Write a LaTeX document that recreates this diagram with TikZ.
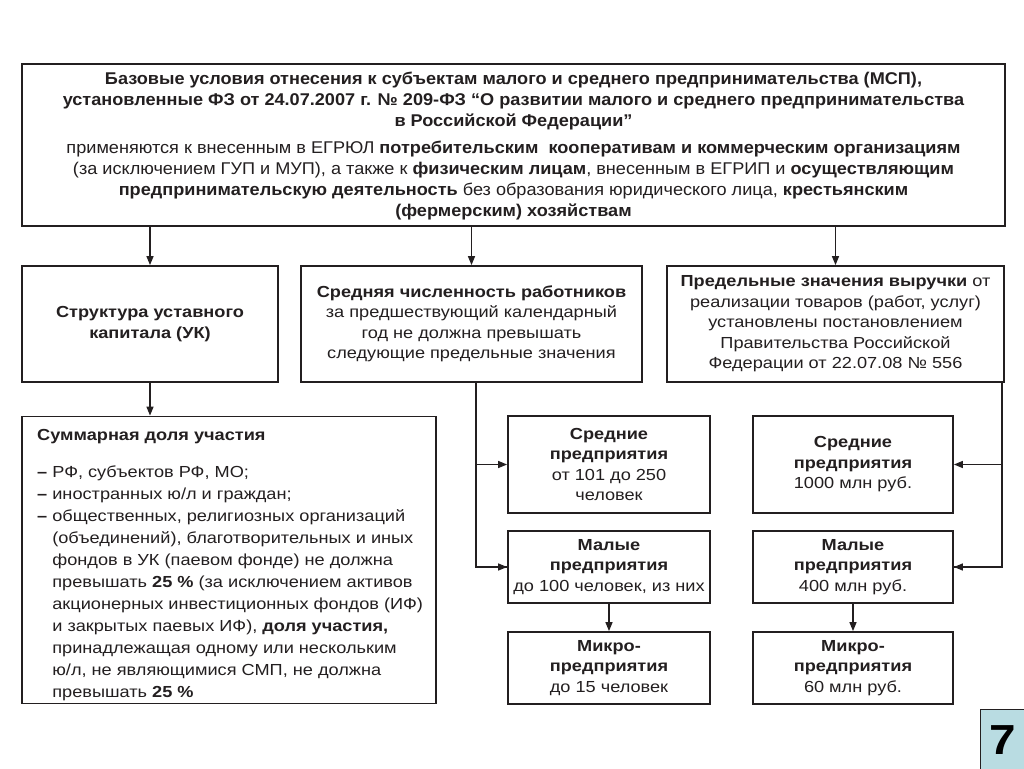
\documentclass[tikz,border=0pt]{standalone}
\usepackage{fontspec}
\setmainfont{Liberation Sans}[FakeStretch=1.135]
\newfontfamily\topfont{Liberation Sans}[FakeStretch=1.066]
\usetikzlibrary{arrows.meta}
\definecolor{ink}{HTML}{231F20}
\definecolor{tabblue}{HTML}{B9DCE2}
\begin{document}
\begin{tikzpicture}[x=1pt,y=-1pt,
  box/.style={draw=ink, line width=1.8pt, rectangle, inner sep=0pt, align=center,
    text=ink, font=\fontsize{16}{20.5}\selectfont},
  conn/.style={draw=ink, line width=1.4pt},
  arr/.style={conn, -{Triangle[length=9pt,width=7pt]}}]
\useasboundingbox (0,0) rectangle (1024,768);
\fill[white] (0,0) rectangle (1024,768);

\node[box, minimum width=983pt, minimum height=162pt] (top) at (513.5,145) {};
\node[align=center, inner sep=0pt, text=ink,
  font=\topfont\fontsize{17}{21}\selectfont] (toptext) at (513.5,146.5)
{\textbf{Базовые условия отнесения к субъектам малого и среднего предпринимательства (МСП),}\\
\textbf{установленные ФЗ от 24.07.2007 г. № 209-ФЗ “О развитии малого и среднего предпринимательства}\\
\textbf{в Российской Федерации”}\\[6pt]
применяются к внесенным в ЕГРЮЛ \textbf{потребительским\ \ кооперативам и коммерческим организациям}\\
(за исключением ГУП и МУП), а также к \textbf{физическим лицам}, внесенным в ЕГРИП и \textbf{осуществляющим}\\
\textbf{предпринимательскую деятельность} без образования юридического лица, \textbf{крестьянским}\\
\textbf{(фермерским) хозяйствам}};

\node[box, minimum width=256pt, minimum height=116pt] (struct) at (150,324)
{\textbf{Структура уставного}\\\textbf{капитала (УК)}};
\node[box, minimum width=341pt, minimum height=116pt] (sred) at (471.5,324)
{\textbf{Средняя численность работников}\\за предшествующий календарный\\год не должна превышать\\следующие предельные значения};
\node[box, minimum width=337pt, minimum height=116pt] (pred) at (835.5,324)
{\textbf{Предельные значения выручки} от\\реализации товаров (работ, услуг)\\установлены постановлением\\Правительства Российской\\Федерации от 22.07.08 № 556};

\node[box, minimum width=414pt, minimum height=287pt] (summ) at (229,560) {};
\node[anchor=north west, align=left, inner sep=0pt, text=ink,
  font=\fontsize{16}{22}\selectfont] (summtext) at (37,429)
{\textbf{Суммарная доля участия}\\[15pt]
\textbf{–} РФ, субъектов РФ, МО;\\
\textbf{–} иностранных ю/л и граждан;\\
\textbf{–} общественных, религиозных организаций\\
\hphantom{\textbf{–} }(объединений), благотворительных и иных\\
\hphantom{\textbf{–} }фондов в УК (паевом фонде) не должна\\
\hphantom{\textbf{–} }превышать \textbf{25 \%} (за исключением активов\\
\hphantom{\textbf{–} }акционерных инвестиционных фондов (ИФ)\\
\hphantom{\textbf{–} }и закрытых паевых ИФ), \textbf{доля участия,}\\
\hphantom{\textbf{–} }принадлежащая одному или нескольким\\
\hphantom{\textbf{–} }ю/л, не являющимися СМП, не должна\\
\hphantom{\textbf{–} }превышать \textbf{25 \%}};

\node[box, minimum width=202pt, minimum height=97pt] (m1) at (609,464.5)
{\textbf{Средние}\\\textbf{предприятия}\\от 101 до 250\\человек};
\node[box, minimum width=202pt, minimum height=72pt] (m2) at (609,567)
{\textbf{Малые}\\\textbf{предприятия}\\до 100 человек, из них};
\node[box, minimum width=202pt, minimum height=72pt] (m3) at (609,668)
{\textbf{Микро-}\\\textbf{предприятия}\\до 15 человек};

\node[box, minimum width=200pt, minimum height=97pt] (r1) at (853,464.5)
{\textbf{Средние}\\\textbf{предприятия}\\1000 млн руб.};
\node[box, minimum width=200pt, minimum height=72pt] (r2) at (853,567)
{\textbf{Малые}\\\textbf{предприятия}\\400 млн руб.};
\node[box, minimum width=200pt, minimum height=72pt] (r3) at (853,668)
{\textbf{Микро-}\\\textbf{предприятия}\\60 млн руб.};

\node[draw=ink, line width=1pt, fill=tabblue, minimum width=46pt, minimum height=62pt,
  inner sep=0pt, font=\bfseries\fontsize{42}{42}\selectfont, text=black] (seven) at (1003,740) {7};

% connectors
\draw[arr] (top.south -| struct.north) -- (struct.north);
\draw[arr] (top.south -| sred.north) -- (sred.north);
\draw[arr] (top.south -| pred.north) -- (pred.north);
\draw[arr] (struct.south) -- (summ.north -| struct.south);

\coordinate (sv) at (476,382);
\draw[conn] (sv) |- (m2.west);
\draw[arr] (sv |- m1.west) -- (m1.west);
\draw[arr] (sv |- m2.west) -- (m2.west);
\draw[arr] (m2.south) -- (m3.north);

\coordinate (rv) at (1002,382);
\draw[conn] (rv) |- (r2.east);
\draw[arr] (rv |- r1.east) -- (r1.east);
\draw[arr] (rv |- r2.east) -- (r2.east);
\draw[arr] (r2.south) -- (r3.north);
\end{tikzpicture}
\end{document}
